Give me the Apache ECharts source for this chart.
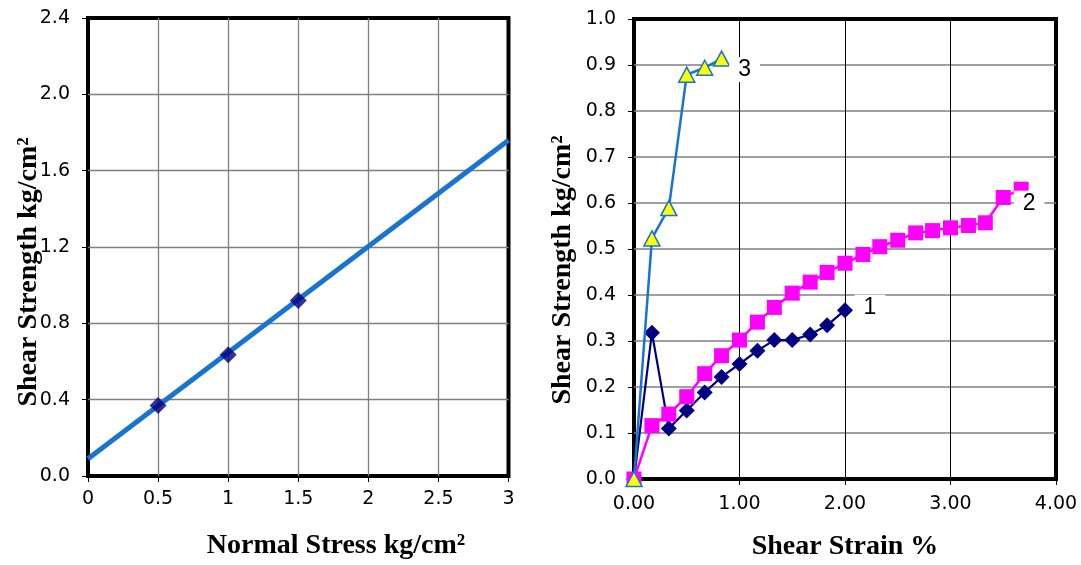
<!DOCTYPE html>
<html>
<head>
<meta charset="utf-8">
<script src="https://cdn.jsdelivr.net/npm/echarts@6/dist/echarts.min.js"></script>
<style>
html,body{margin:0;padding:0;background:#fff;}
#chart{width:1081px;height:565px;}
</style>
</head>
<body>
<div id="chart"></div>
<script>
// ---- Left chart data (failure envelope) ----
const normalStress = [0.5, 1.0, 1.5];
const peakShear = [0.37, 0.635, 0.92];
const trendStress = [0, 3];
const trendShear = [0.09, 1.76];
const leftXTicks = ['0', '0.5', '1', '1.5', '2', '2.5', '3'];
const leftYTicks = ['0.0', '0.4', '0.8', '1.2', '1.6', '2.0', '2.4'];

// ---- Right chart data (shear strength vs strain) ----
const shearStrain = [0, 0.17, 0.33, 0.5, 0.67, 0.83, 1.0, 1.17, 1.33, 1.5, 1.67, 1.83, 2.0,
  2.17, 2.33, 2.5, 2.67, 2.83, 3.0, 3.17, 3.33, 3.5, 3.67];
const shear1 = [0, 0.318, 0.11, 0.149, 0.188, 0.222, 0.25, 0.279, 0.302, 0.302, 0.314, 0.334, 0.367];
const shear2 = [0, 0.116, 0.141, 0.179, 0.229, 0.268, 0.302, 0.341, 0.373, 0.404, 0.428, 0.449, 0.469,
  0.488, 0.505, 0.519, 0.535, 0.54, 0.546, 0.551, 0.557, 0.612, 0.63];
const shear3 = [0, 0.523, 0.589, 0.879, 0.894, 0.914];
const seriesNames = ['1', '2', '3'];
const rightXTicks = ['0.00', '1.00', '2.00', '3.00', '4.00'];
const rightYTicks = ['0.0', '0.1', '0.2', '0.3', '0.4', '0.5', '0.6', '0.7', '0.8', '0.9', '1.0'];

const TICK_FONT = '"DejaVu Sans", Arial, sans-serif';
const LABEL_FONT = '"Liberation Sans", Arial, sans-serif';
const TITLE_FONT = 'bold 28px "Liberation Serif", "Times New Roman", serif';

function pairs(xs, ys) { return ys.map((y, i) => [xs[i], y]); }
function endLabel(data, offset) {
  const last = data.length - 1;
  data[last] = {
    value: data[last],
    label: {
      show: true, position: 'inside', offset: offset,
      formatter: '{a}', color: '#000', fontSize: 23, fontFamily: LABEL_FONT,
      backgroundColor: '#fff', padding: [1, 9]
    }
  };
  return data;
}
function tickFmt(list, step) {
  return function (v) { const i = Math.round(v / step); return list[i] !== undefined ? list[i] : ''; };
}

const axisLabelStyle = { color: '#000', fontSize: 19, fontFamily: TICK_FONT };
const tick = { show: true, length: 6, lineStyle: { color: '#000', width: 1 } };

const chart = echarts.init(document.getElementById('chart'), null, { renderer: 'canvas' });
chart.setOption({
  animation: false,
  backgroundColor: '#fff',
  grid: [
    { left: 88, top: 18, right: 572.5, bottom: 89, show: true, borderColor: '#000', borderWidth: 4, backgroundColor: 'transparent' },
    { left: 634, top: 19, right: 25, bottom: 86, show: true, borderColor: '#000', borderWidth: 4, backgroundColor: 'transparent' }
  ],
  xAxis: [
    { gridIndex: 0, type: 'value', min: 0, max: 3, interval: 0.5,
      axisLine: { show: false }, axisTick: tick,
      axisLabel: Object.assign({ margin: 14, formatter: tickFmt(leftXTicks, 0.5) }, axisLabelStyle),
      splitLine: { show: true, showMinLine: false, showMaxLine: false, lineStyle: { color: '#7f7f7f', width: 1.3 } } },
    { gridIndex: 1, type: 'value', min: 0, max: 4, interval: 1,
      axisLine: { show: false }, axisTick: tick,
      axisLabel: Object.assign({ margin: 16, formatter: tickFmt(rightXTicks, 1) }, axisLabelStyle),
      splitLine: { show: true, showMinLine: false, showMaxLine: false, lineStyle: { color: '#000', width: 1 } } }
  ],
  yAxis: [
    { gridIndex: 0, type: 'value', min: 0, max: 2.4, interval: 0.4,
      axisLine: { show: false }, axisTick: tick,
      axisLabel: Object.assign({ margin: 18, formatter: tickFmt(leftYTicks, 0.4) }, axisLabelStyle),
      splitLine: { show: true, showMinLine: false, showMaxLine: false, lineStyle: { color: '#7f7f7f', width: 1.3 } } },
    { gridIndex: 1, type: 'value', min: 0, max: 1, interval: 0.1,
      axisLine: { show: false }, axisTick: tick,
      axisLabel: Object.assign({ margin: 18, formatter: tickFmt(rightYTicks, 0.1) }, axisLabelStyle),
      splitLine: { show: true, showMinLine: false, showMaxLine: false, lineStyle: { color: '#808080', width: 1.6 } } }
  ],
  series: [
    { type: 'line', xAxisIndex: 0, yAxisIndex: 0, data: pairs(trendStress, trendShear),
      showSymbol: false, symbol: 'none', lineStyle: { color: '#1874D0', width: 5 }, z: 2, silent: true },
    { type: 'scatter', xAxisIndex: 0, yAxisIndex: 0, data: pairs(normalStress, peakShear),
      symbol: 'diamond', symbolSize: 17, itemStyle: { color: '#000080' }, z: 3, silent: true },

    { name: seriesNames[0], type: 'line', xAxisIndex: 1, yAxisIndex: 1,
      data: endLabel(pairs(shearStrain, shear1), [25, -3]),
      symbol: 'diamond', symbolSize: 16, showAllSymbol: true,
      itemStyle: { color: '#000080' }, lineStyle: { color: '#000080', width: 2.2 }, z: 3, silent: true },
    { name: seriesNames[1], type: 'line', xAxisIndex: 1, yAxisIndex: 1,
      data: endLabel(pairs(shearStrain, shear2), [8, 14]),
      symbol: 'rect', symbolSize: 15, showAllSymbol: true,
      itemStyle: { color: '#FF00FF' }, lineStyle: { color: '#FF00FF', width: 2.5 }, z: 4, silent: true },
    { name: seriesNames[2], type: 'line', xAxisIndex: 1, yAxisIndex: 1,
      data: endLabel(pairs(shearStrain, shear3), [23, 11]),
      symbol: 'triangle', symbolSize: [16, 15], showAllSymbol: true,
      itemStyle: { color: '#FFFF00', borderColor: '#1874D0', borderWidth: 1.5 },
      lineStyle: { color: '#1874D0', width: 2.5 }, z: 5, silent: true }
  ],
  graphic: [
    { type: 'text', x: 29, y: 272, rotation: Math.PI / 2,
      style: { text: 'Shear Strength kg/cm²', font: TITLE_FONT, fill: '#000', align: 'center', verticalAlign: 'middle' } },
    { type: 'text', x: 336, y: 546,
      style: { text: 'Normal Stress kg/cm²', font: TITLE_FONT, fill: '#000', align: 'center', verticalAlign: 'middle' } },
    { type: 'text', x: 563, y: 270, rotation: Math.PI / 2,
      style: { text: 'Shear Strength kg/cm²', font: TITLE_FONT, fill: '#000', align: 'center', verticalAlign: 'middle' } },
    { type: 'text', x: 845, y: 547,
      style: { text: 'Shear Strain %', font: TITLE_FONT, fill: '#000', align: 'center', verticalAlign: 'middle' } }
  ]
});
</script>
</body>
</html>
